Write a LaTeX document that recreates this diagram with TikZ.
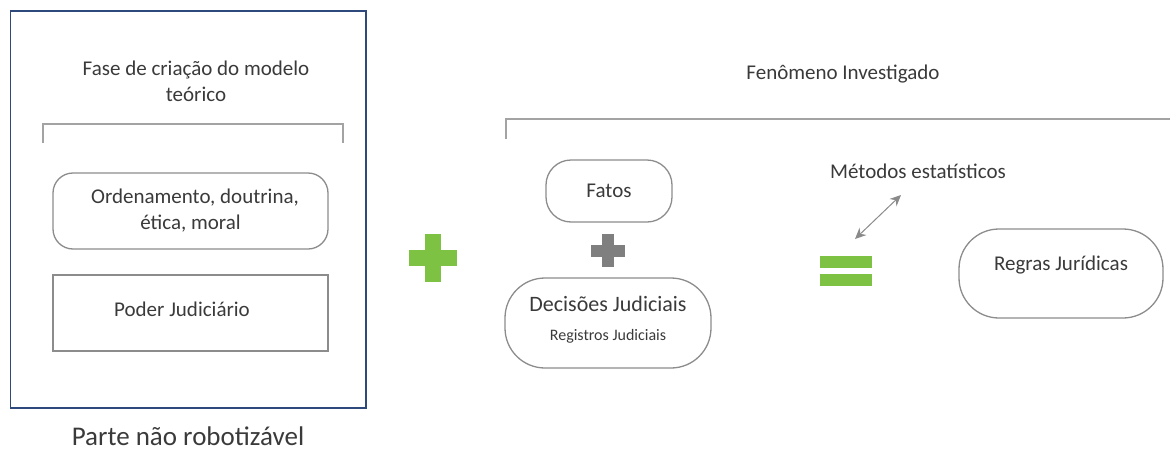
\documentclass[tikz,border=0pt]{standalone}
\usepackage{fontspec}
\setmainfont{Carlito}
\usetikzlibrary{arrows.meta}
\definecolor{txtc}{HTML}{3A3A3A}
\definecolor{boxc}{HTML}{8C8C8C}
\definecolor{navy}{HTML}{2E4A7D}
\definecolor{plusgreen}{HTML}{7DC243}
\definecolor{plusgray}{HTML}{7F7F7F}
\definecolor{arrowc}{HTML}{8A8A8A}
\tikzset{
  txt/.style={text=txtc, inner sep=0pt, align=center, font=\fontsize{21}{26}\selectfont},
  roundbox/.style={draw=boxc, line width=1.3pt, inner sep=0pt, align=center, text=txtc, font=\fontsize{21}{26}\selectfont},
  bracketline/.style={draw=boxc!80, line width=1.3pt},
}
\begin{document}
\begin{tikzpicture}[x=1pt,y=-1pt]
\useasboundingbox (0,0) rectangle (1170,450);
% left panel
\draw[navy, line width=1.8pt] (10.5,11) rectangle (366,408);
\node[txt] (title) at (196,81) {Fase de criação do modelo\\teórico};
\draw[bracketline] (43,143) -- (43,124) -- (343,124) -- (343,143);
\node[roundbox, rounded corners=20pt, minimum width=275pt, minimum height=76pt] (orden) at (190.5,211) {\hspace*{9pt}Ordenamento, doutrina,\\ética, moral};
\node[roundbox, minimum width=275pt, minimum height=76pt] (poder) at (190.5,313) {};
\node[txt] (podert) at (182,309) {Poder Judiciário};
\node[txt, font=\fontsize{27}{32}\selectfont] (parte) at (188,436) {Parte não robotizável};
% green plus
\fill[plusgreen] (425,234) rectangle (441,282);
\fill[plusgreen] (409,250) rectangle (457,266);
% right part
\node[txt] (fen) at (843,74) {Fenômeno Investigado};
\draw[bracketline] (506,139) -- (506,119) -- (1170,119);
\node[roundbox, rounded corners=25pt, minimum width=126pt, minimum height=62pt] (fatos) at (609,191) {Fatos};
\fill[plusgray] (602,234) rectangle (614,267);
\fill[plusgray] (591,244.5) rectangle (625,256.5);
\node[roundbox, rounded corners=40pt, minimum width=206pt, minimum height=90pt] (dec) at (608,323) {};
\node[txt, font=\fontsize{22}{26}\selectfont] (dect) at (608,304) {Decisões Judiciais};
\node[txt, font=\fontsize{16}{20}\selectfont] (regt) at (608,336) {Registros Judiciais};
\node[txt] (metodos) at (918,171) {Métodos estatísticos};
\coordinate (a1) at (901,195);
\coordinate (a2) at (855,239);
\draw[arrowc, line width=1pt, {Stealth[length=11pt,width=10pt]}-{Stealth[length=11pt,width=10pt]}] (a2) -- (a1);
\fill[plusgreen] (820,256) rectangle (872,268);
\fill[plusgreen] (820,274) rectangle (872,286);
\node[roundbox, rounded corners=40pt, minimum width=204pt, minimum height=89pt] (regras) at (1061,273.5) {};
\node[txt] (regrast) at (1061,265) {Regras Jurídicas};
\end{tikzpicture}
\end{document}
